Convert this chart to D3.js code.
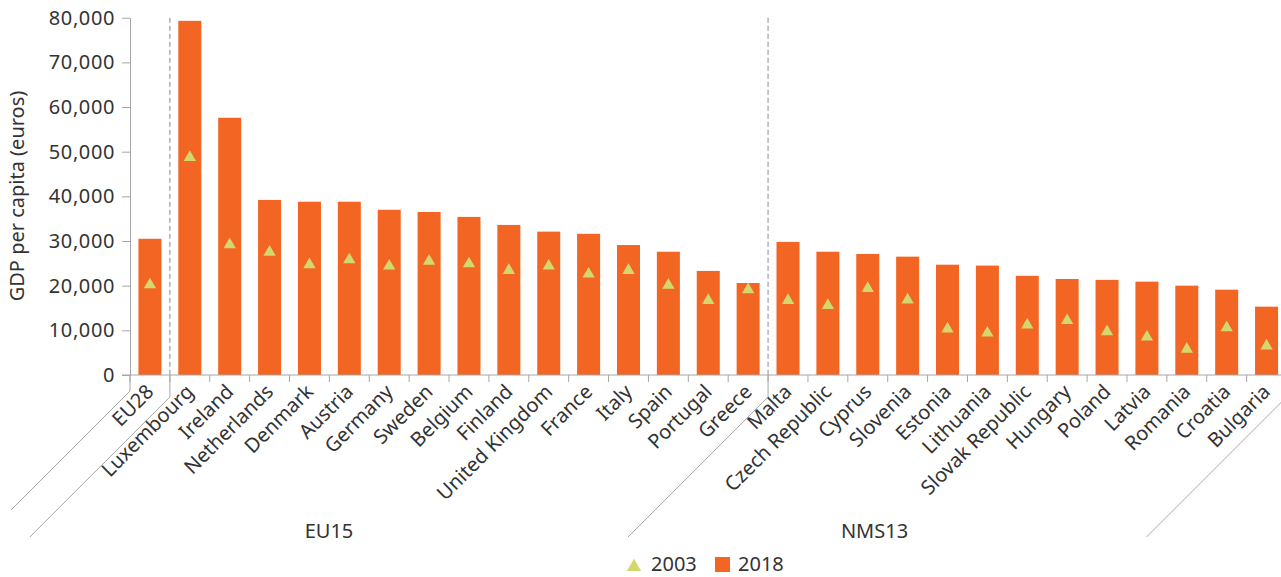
<!DOCTYPE html>
<html>
<head>
<meta charset="utf-8">
<script src="https://cdn.jsdelivr.net/npm/d3@7"></script>
<style>
  body { margin: 0; background: #fff; }
  text { font-family: "Noto Sans", sans-serif; fill: #333; }
</style>
</head>
<body>
<script>
const width = 1281;
const height = 577;

const categories = ["EU28", "Luxembourg", "Ireland", "Netherlands", "Denmark", "Austria", "Germany",
  "Sweden", "Belgium", "Finland", "United Kingdom", "France", "Italy", "Spain", "Portugal", "Greece",
  "Malta", "Czech Republic", "Cyprus", "Slovenia", "Estonia", "Lithuania", "Slovak Republic",
  "Hungary", "Poland", "Latvia", "Romania", "Croatia", "Bulgaria"];
const gdp2018 = [30500, 79300, 57600, 39200, 38800, 38800, 37000, 36500, 35400, 33600, 32100, 31600,
  29100, 27600, 23300, 20600, 29800, 27600, 27100, 26500, 24700, 24500, 22200, 21500, 21300, 20900,
  20000, 19100, 15300];
const gdp2003 = [20600, 49100, 29600, 27900, 25100, 26200, 24800, 25900, 25300, 23800, 24800, 23000,
  23800, 20500, 17100, 19500, 17100, 16000, 19800, 17200, 10700, 9800, 11600, 12600, 10100, 8900,
  6200, 11000, 6900];
// groups by category index: [start, end)
const groupNames = ["EU15", "NMS13"];
const groupStarts = [1, 16];
const groupEnds = [16, 29];
const yTicks = [0, 10000, 20000, 30000, 40000, 50000, 60000, 70000, 80000];

const svg = d3.select("body")
  .append("svg")
  .attr("width", width)
  .attr("height", height);

const x = d3.scaleBand()
  .domain(categories)
  .range([130, 1286.5])
  .paddingInner(0.423)
  .paddingOuter(0.2115);

const y = d3.scaleLinear()
  .domain([0, 80000])
  .range([375, 17.7]);

const edge = i => x.range()[0] + i * x.step();
const grey = "#a6a6a6";

// y axis
const yAxis = svg.append("g")
  .attr("transform", "translate(130,0)")
  .call(d3.axisLeft(y).tickValues(yTicks).tickSize(8).tickSizeOuter(0).tickPadding(7)
    .tickFormat(d3.format(",")));
yAxis.select(".domain").attr("stroke", grey);
yAxis.selectAll(".tick line").attr("stroke", grey);
yAxis.selectAll(".tick text")
  .style("font-family", "Noto Sans")
  .style("font-size", "20px")
  .style("letter-spacing", "0.6px")
  .attr("fill", "#333");

svg.append("text")
  .attr("transform", "translate(24,196) rotate(-90)")
  .attr("text-anchor", "middle")
  .style("font-size", "20px")
  .text("GDP per capita (euros)");

// dashed separators
svg.selectAll("line.sep")
  .data(groupStarts)
  .enter()
  .append("line")
  .attr("class", "sep")
  .attr("x1", d => edge(d))
  .attr("x2", d => edge(d))
  .attr("y1", y(80000))
  .attr("y2", y(0))
  .attr("stroke", grey)
  .attr("stroke-width", 1.3)
  .attr("stroke-dasharray", "5,3");

// bars
svg.selectAll("rect.bar")
  .data(categories)
  .enter()
  .append("rect")
  .attr("class", "bar")
  .attr("x", d => x(d))
  .attr("width", x.bandwidth())
  .attr("y", (d, i) => y(gdp2018[i]))
  .attr("height", (d, i) => y(0) - y(gdp2018[i]))
  .attr("fill", "#f26522");

// 2003 markers
const tri = d3.symbol().type(d3.symbolTriangle).size(66);
const triOff = Math.sqrt(66 / (Math.sqrt(3) * 3)) / 2;
svg.selectAll("path.mark")
  .data(categories)
  .enter()
  .append("path")
  .attr("class", "mark")
  .attr("d", tri)
  .attr("transform", (d, i) => `translate(${x(d) + x.bandwidth() / 2},${y(gdp2003[i]) + triOff})`)
  .attr("fill", "#d4d66e");

// x axis
svg.append("line")
  .attr("x1", 122).attr("x2", width)
  .attr("y1", y(0)).attr("y2", y(0))
  .attr("stroke", grey);

svg.selectAll("line.xtick")
  .data(d3.range(categories.length + 1))
  .enter()
  .append("line")
  .attr("class", "xtick")
  .attr("x1", d => edge(d))
  .attr("x2", d => edge(d))
  .attr("y1", y(0))
  .attr("y2", y(0) + 7)
  .attr("stroke", grey);

svg.selectAll("text.cat")
  .data(categories)
  .enter()
  .append("text")
  .attr("class", "cat")
  .attr("text-anchor", "end")
  .attr("transform", d => `translate(${x(d) + x.bandwidth() / 2 + 5},393) rotate(-45)`)
  .style("font-size", "20px")
  .text(d => d);

// group boundary lines (skewed like the category labels)
const bounds = [
  { i: 0, yb: 391, ye: 510 },
  { i: groupStarts[0], yb: 397, ye: 537 },
  { i: groupStarts[1], yb: 397, ye: 537 },
  { i: groupEnds[1], yb: 397, ye: 537 }
];
svg.selectAll("path.bound")
  .data(bounds)
  .enter()
  .append("path")
  .attr("class", "bound")
  .attr("d", d => {
    const bx = edge(d.i);
    return `M${bx},${y(0)}V${d.yb}L${bx - (d.ye - d.yb)},${d.ye}`;
  })
  .attr("fill", "none")
  .attr("stroke", grey);

svg.selectAll("text.group")
  .data(groupNames)
  .enter()
  .append("text")
  .attr("class", "group")
  .attr("text-anchor", "middle")
  .attr("x", (d, k) => (edge(groupStarts[k]) + Math.min(edge(groupEnds[k]), width - 20)) / 2 - 140)
  .attr("y", 538)
  .style("font-size", "20px")
  .text(d => d);

// legend
const legend = svg.append("g");
legend.append("path")
  .attr("d", d3.symbol().type(d3.symbolTriangle).size(88))
  .attr("transform", "translate(634,567)")
  .attr("fill", "#d4d66e");
legend.append("text").attr("x", 651).attr("y", 571).style("font-size", "20px").text("2003");
legend.append("rect").attr("x", 715).attr("y", 557).attr("width", 15).attr("height", 15).attr("fill", "#f26522");
legend.append("text").attr("x", 738).attr("y", 571).style("font-size", "20px").text("2018");
</script>
</body>
</html>
